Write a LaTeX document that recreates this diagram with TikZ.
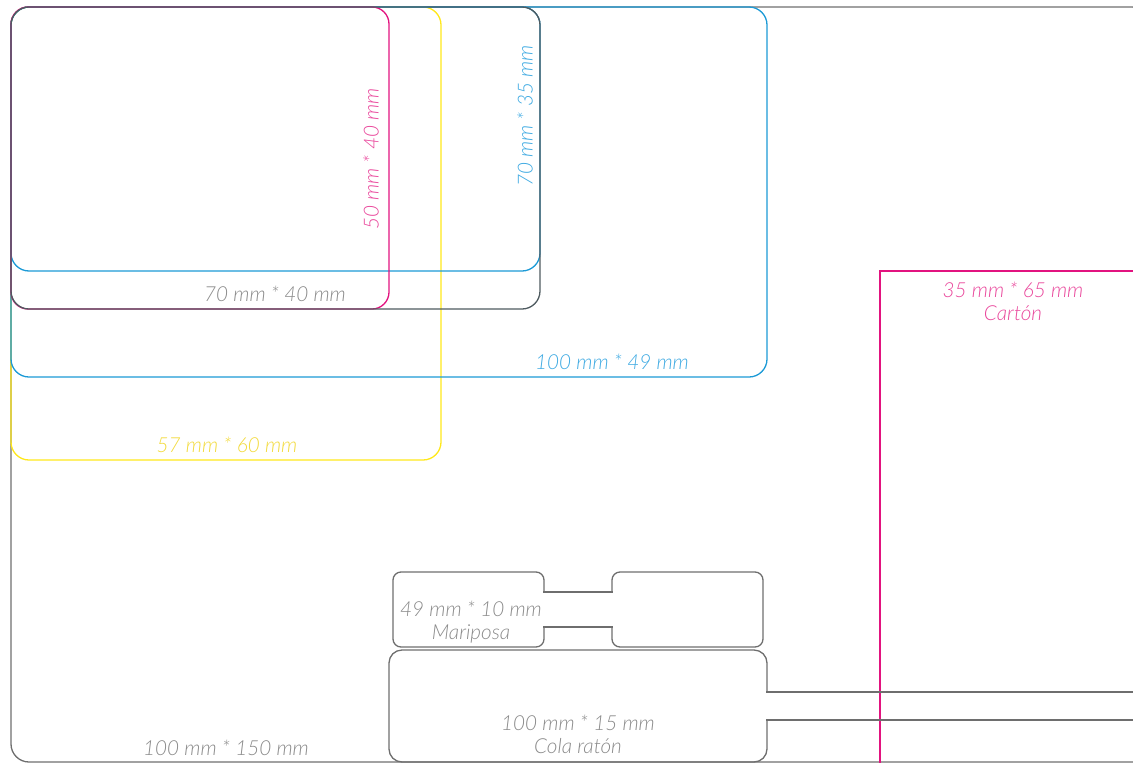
\documentclass[tikz,border=0pt]{standalone}
\usepackage{fontspec}
\IfFontExistsTF{Lato Light Italic}{\newfontfamily\lblfont{Lato Light Italic}}{\newfontfamily\lblfont{Lato}[UprightFont={* Italic}]}
\definecolor{lngray}{HTML}{6E6E6E}
\definecolor{lndark}{HTML}{4F5B60}
\definecolor{txgray}{HTML}{8A8A8A}
\definecolor{mag}{HTML}{E2137F}
\definecolor{txmag}{HTML}{E9489C}
\definecolor{cyanb}{HTML}{1C9AD6}
\definecolor{txcyan}{HTML}{3FAAE2}
\definecolor{yel}{HTML}{FFE81A}
\definecolor{txyel}{HTML}{F2DA3C}
\tikzset{
  edge/.style={line width=1.3pt},
  lbl/.style={font=\lblfont\fontsize{20.7}{23}\selectfont, inner sep=0pt, align=center},
}
\begin{document}
\begin{tikzpicture}[x=1pt,y=-1pt]
\useasboundingbox (0,0) rectangle (1133,763);
\clip (0,0) rectangle (1133,763);
% outer 100 x 150
\draw[edge, lngray, rounded corners=18] (11,7) rectangle (1150,762);
% carton
\draw[edge, mag] (880,780) -- (880,271) -- (1150,271);
% yellow 57 x 60
\draw[edge, yel, rounded corners=18] (11,7) rectangle (441,460);
% blue 100 x 49
\draw[edge, cyanb, rounded corners=18] (11,7) rectangle (767,377);
% blue 70 x 35
\draw[edge, cyanb, rounded corners=18] (11,7) rectangle (540,271);
% magenta 50 x 40
\draw[edge, mag, rounded corners=17] (11,7) rectangle (389,309);
% dark 70 x 40
\draw[edge, lndark, rounded corners=18] (11,7) rectangle (540,309);
% mariposa
\draw[edge, lngray, rounded corners=8] (544,592) -- (544,572) -- (393,572) -- (393,647) -- (544,647) -- (544,627);
\draw[edge, lngray, line cap=rect] (544,592) -- (612,592);
\draw[edge, lngray, line cap=rect] (544,627) -- (612,627);
\draw[edge, lngray, rounded corners=8] (612,592) -- (612,572) -- (763,572) -- (763,647) -- (612,647) -- (612,627);
% cola raton
\draw[edge, lngray, rounded corners=13] (767,692) -- (767,650) -- (389,650) -- (389,762) -- (767,762) -- (767,720);
\draw[edge, lngray, line cap=rect] (767,692) -- (1150,692);
\draw[edge, lngray, line cap=rect] (767,720) -- (1150,720);
% labels
\node[lbl, text=txgray] (t7040) at (275,294) {70 mm * 40 mm};
\node[lbl, text=txcyan] (t10049) at (612,362) {100 mm * 49 mm};
\node[lbl, text=txyel] (t5760) at (227,445) {57 mm * 60 mm};
\node[lbl, text=txmag, rotate=90] (t5040) at (371,159) {50 mm * 40 mm};
\node[lbl, text=txcyan, rotate=90] (t7035) at (525,116) {70 mm * 35 mm};
\node[lbl, text=txgray] (t100150) at (226,748) {100 mm * 150 mm};
\node[lbl, text=txmag] (tcarton) at (1013,301) {35 mm * 65 mm\\Cartón};
\node[lbl, text=txgray] (tmari) at (471,622) {49 mm * 10 mm\\Mariposa};
\node[lbl, text=txgray] (tcola) at (578,734) {100 mm * 15 mm\\Cola ratón};
\end{tikzpicture}
\end{document}
